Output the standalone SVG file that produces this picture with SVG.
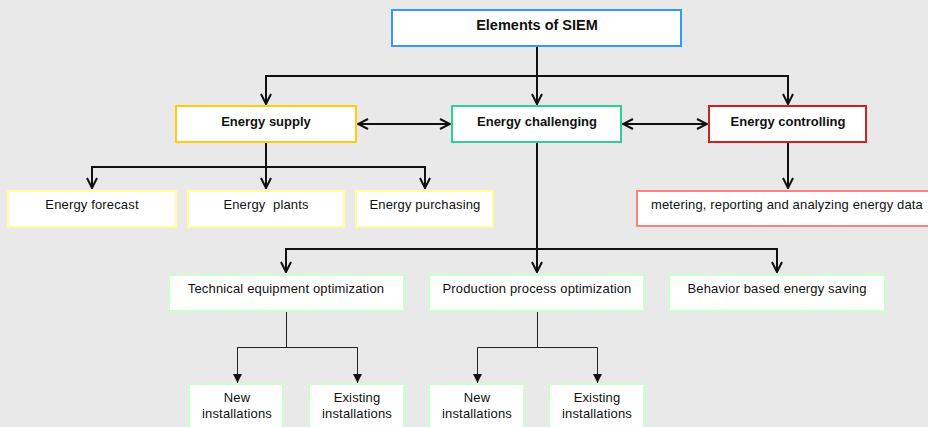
<svg xmlns="http://www.w3.org/2000/svg" width="928" height="427" viewBox="0 0 928 427">
<defs>
<style>
.bg{fill:#e9e9e9}
.box{fill:#fff;stroke-width:2}
.t{font-family:"Liberation Sans",Arial,sans-serif;font-size:13px;fill:#111;text-anchor:middle;letter-spacing:0.15px}
.b{font-weight:bold;letter-spacing:0}
.h{font-size:14.5px}
.c{fill:none;stroke:#111;stroke-width:2}
.c1{fill:none;stroke:#222;stroke-width:1}
</style>
<marker id="v" viewBox="0 0 12 12" refX="11" refY="6" markerWidth="12" markerHeight="12" markerUnits="userSpaceOnUse" orient="auto-start-reverse">
<path d="M1,1 L11,6 L1,11" fill="none" stroke="#111" stroke-width="2"/>
</marker>
<marker id="f" viewBox="0 0 10 10" refX="10" refY="5" markerWidth="9" markerHeight="9" markerUnits="userSpaceOnUse" orient="auto">
<path d="M0,0 L10,5 L0,10 Z" fill="#111"/>
</marker>
</defs>
<rect class="bg" x="0" y="0" width="928" height="427"/>
<g id="connectors">
<path class="c" d="M537,46 V104" marker-end="url(#v)"/>
<path class="c" d="M266,104 V76 H788 V104" marker-start="url(#v)" marker-end="url(#v)"/>
<path class="c" d="M358,124 H450" marker-start="url(#v)" marker-end="url(#v)"/>
<path class="c" d="M623,124 H707" marker-start="url(#v)" marker-end="url(#v)"/>
<path class="c" d="M266,142 V188" marker-end="url(#v)"/>
<path class="c" d="M92,188 V167 H425 V188" marker-start="url(#v)" marker-end="url(#v)"/>
<path class="c" d="M788,142 V188" marker-end="url(#v)"/>
<path class="c" d="M537,142 V272" marker-end="url(#v)"/>
<path class="c" d="M286,272 V249 H777 V272" marker-start="url(#v)" marker-end="url(#v)"/>
<path class="c1" d="M286.5,311 V347.5"/>
<path class="c1" d="M237.5,382 V347.5 H357.5 V382"/>
<path class="c1" d="M237.5,347.5 V383" marker-end="url(#f)"/>
<path class="c1" d="M357.5,347.5 V383" marker-end="url(#f)"/>
<path class="c1" d="M537.5,311 V347.5"/>
<path class="c1" d="M477.5,347.5 H597.5"/>
<path class="c1" d="M477.5,347.5 V383" marker-end="url(#f)"/>
<path class="c1" d="M597.5,347.5 V383" marker-end="url(#f)"/>
</g>
<g id="n-siem"><rect class="box" x="392" y="10" width="289" height="36" stroke="#3399ff"/><text class="t b h" x="537" y="30">Elements of SIEM</text></g>
<g id="n-supply"><rect class="box" x="176" y="106" width="180" height="36" stroke="#ffcc11"/><text class="t b" x="266" y="126">Energy supply</text></g>
<g id="n-challenging"><rect class="box" x="452" y="106" width="169" height="36" stroke="#33cc99"/><text class="t b" x="537" y="126">Energy challenging</text></g>
<g id="n-controlling"><rect class="box" x="709" y="106" width="157" height="36" stroke="#cc2222"/><text class="t b" x="788" y="126">Energy controlling</text></g>
<g id="n-forecast"><rect class="box" x="8" y="191" width="168" height="36" stroke="#ffff99"/><text class="t" x="92" y="209">Energy forecast</text></g>
<g id="n-plants"><rect class="box" x="188" y="191" width="156" height="36" stroke="#ffff99"/><text class="t" x="266" y="209" xml:space="preserve">Energy  plants</text></g>
<g id="n-purchasing"><rect class="box" x="356" y="191" width="137" height="36" stroke="#ffff99"/><text class="t" x="425" y="209">Energy purchasing</text></g>
<g id="n-metering"><rect class="box" x="637" y="191" width="300" height="35" stroke="#ff8080"/><text class="t" x="787" y="209">metering, reporting and analyzing energy data</text></g>
<g id="n-technical"><rect class="box" x="169" y="275" width="235" height="36" stroke="#ccffcc"/><text class="t" x="286" y="293">Technical equipment optimization</text></g>
<g id="n-production"><rect class="box" x="429" y="275" width="215" height="36" stroke="#ccffcc"/><text class="t" x="537" y="293">Production process optimization</text></g>
<g id="n-behavior"><rect class="box" x="669" y="275" width="216" height="36" stroke="#ccffcc"/><text class="t" x="777" y="293">Behavior based energy saving</text></g>
<g id="n-new1"><rect class="box" x="189" y="384" width="94" height="50" stroke="#ccffcc"/><text class="t" x="237" y="402">New</text><text class="t" x="237" y="418">installations</text></g>
<g id="n-exist1"><rect class="box" x="309" y="384" width="95" height="50" stroke="#ccffcc"/><text class="t" x="357" y="402">Existing</text><text class="t" x="357" y="418">installations</text></g>
<g id="n-new2"><rect class="box" x="429" y="384" width="95" height="50" stroke="#ccffcc"/><text class="t" x="477" y="402">New</text><text class="t" x="477" y="418">installations</text></g>
<g id="n-exist2"><rect class="box" x="549" y="384" width="95" height="50" stroke="#ccffcc"/><text class="t" x="597" y="402">Existing</text><text class="t" x="597" y="418">installations</text></g>
</svg>
